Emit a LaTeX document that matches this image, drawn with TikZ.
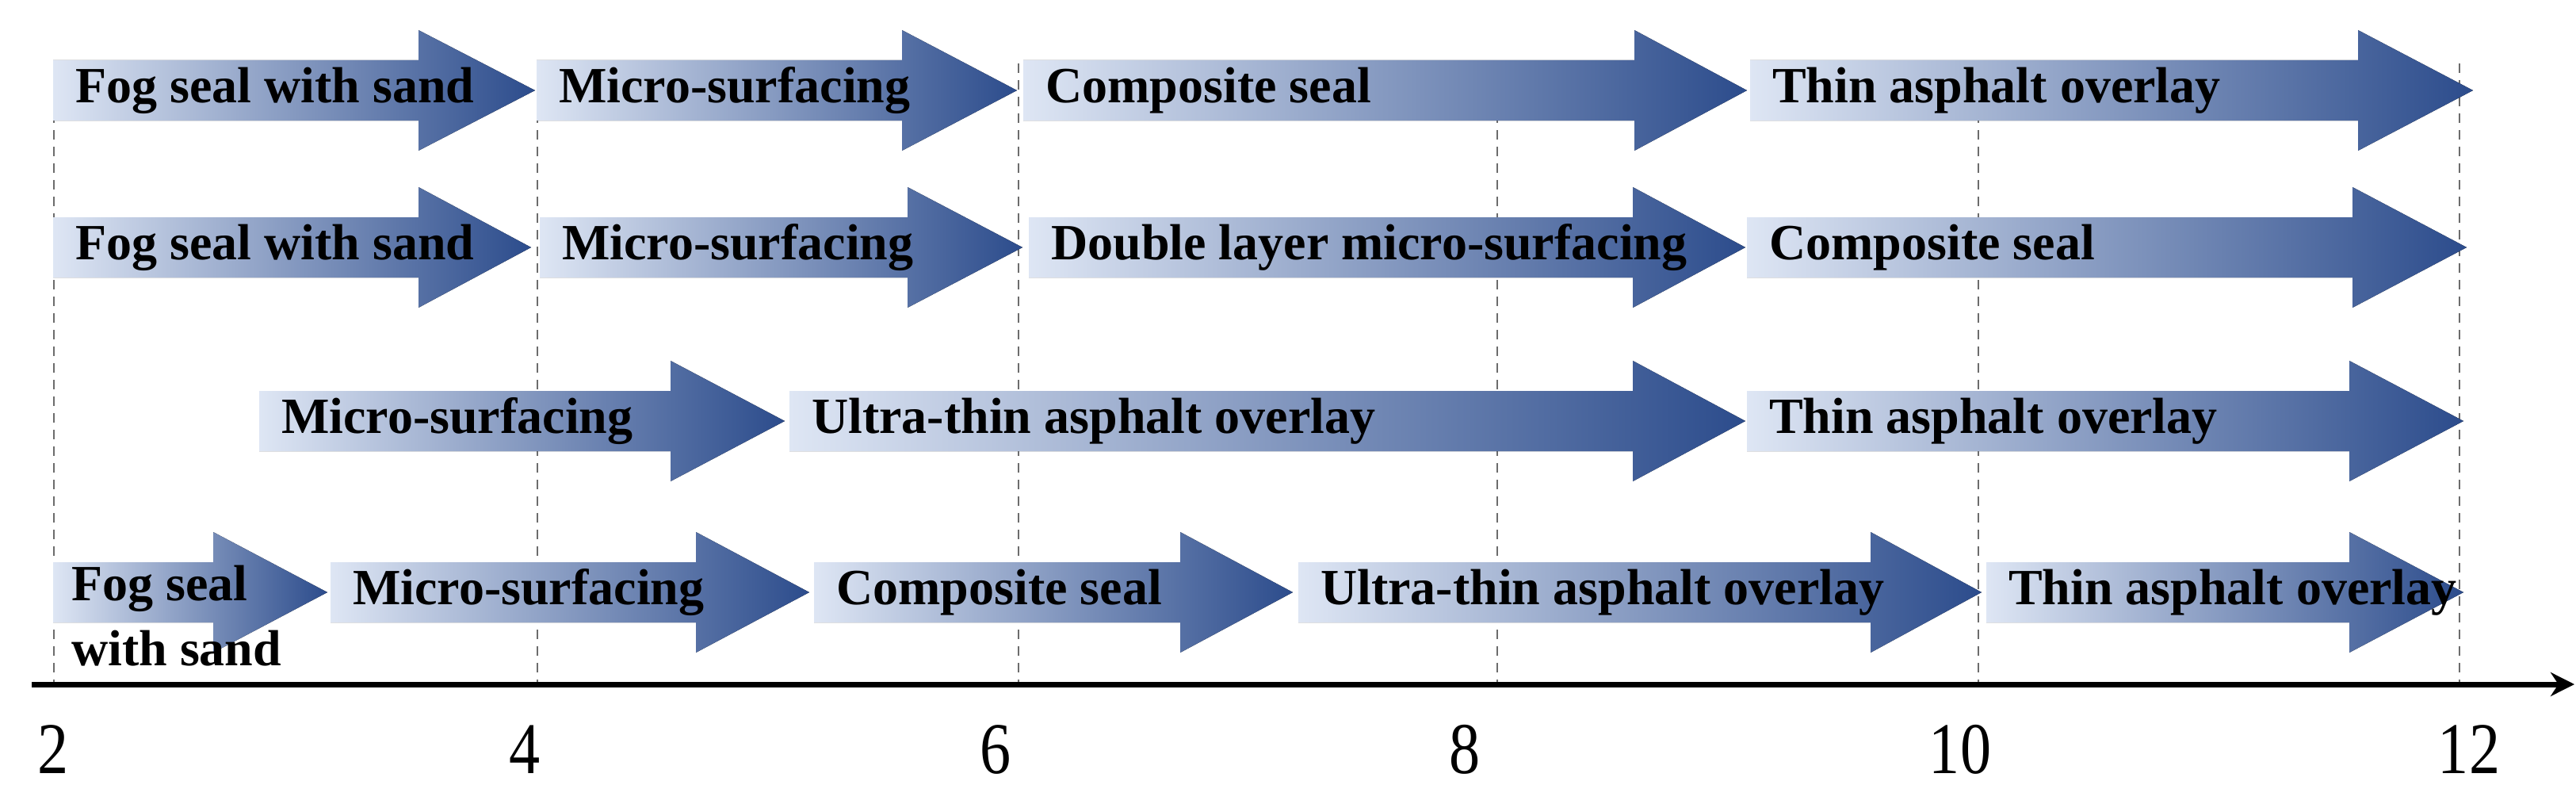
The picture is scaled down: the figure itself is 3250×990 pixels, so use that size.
\documentclass[tikz,border=0pt]{standalone}
\usepackage{fontspec}
\setmainfont{Liberation Serif}
\newfontfamily\tickfont[FakeStretch=0.85]{Liberation Serif}
\usetikzlibrary{arrows.meta}
\definecolor{lightb}{RGB}{222,230,244}
\definecolor{midb}{RGB}{150,175,222}
\definecolor{darkb}{RGB}{44,76,140}
\tikzset{
  shaft/.style={left color=lightb, middle color=midb, right color=darkb, draw=none},
  lbl/.style={font=\bfseries\fontsize{64}{66}\selectfont, anchor=west, inner sep=0pt},
  tick/.style={font=\tickfont\fontsize{92}{94}\selectfont, inner sep=0pt},
  guide/.style={draw=gray!85!black, line width=2pt, dash pattern=on 12pt off 9pt}
}
\newcommand{\arrw}[6]{% x1 headstart x2 yc name label
  \fill[shaft] (#1,#4-38) -- (#2,#4-38) -- (#2,#4-76) -- (#3,#4) -- (#2,#4+76) -- (#2,#4+38) -- (#1,#4+38) -- cycle;
  \node[lbl] (#5) at (#1+28,#4) {#6};}
\begin{document}
\begin{tikzpicture}[x=1pt,y=-1pt]
\useasboundingbox (0,0) rectangle (3250,990);
% guides
\foreach \x/\n in {68/g2,678/g4,1285/g6,1889/g8,2496/g10,3103/g12}{
  \coordinate (\n t) at (\x,80);
  \coordinate (\n b) at (\x,863);
  \draw[guide] (\n t) -- (\n b);
}
% row 1
\arrw{67}{528}{675}{114}{a11}{Fog seal with sand}
\arrw{677}{1138}{1283}{114}{a12}{Micro-surfacing}
\arrw{1291}{2062}{2204}{114}{a13}{Composite seal}
\arrw{2208}{2975}{3120}{114}{a14}{Thin asphalt overlay}
% row 2
\arrw{67}{528}{670}{312}{a21}{Fog seal with sand}
\arrw{681}{1145}{1290}{312}{a22}{Micro-surfacing}
\arrw{1298}{2060}{2202}{312}{a23}{Double layer micro-surfacing}
\arrw{2204}{2968}{3112}{312}{a24}{Composite seal}
% row 3
\arrw{327}{846}{990}{531}{a31}{Micro-surfacing}
\arrw{996}{2060}{2202}{531}{a32}{Ultra-thin asphalt overlay}
\arrw{2204}{2964}{3108}{531}{a33}{Thin asphalt overlay}
% row 4
\arrw{67}{269}{413}{747}{a41}{}
\node[lbl] (a41t) at (90,742) {Fog seal};
\node[lbl] (a41b) at (90,818) {with sand};
\arrw{417}{878}{1021}{747}{a42}{Micro-surfacing}
\arrw{1027}{1489}{1631}{747}{a43}{Composite seal}
\arrw{1638}{2360}{2500}{747}{a44}{Ultra-thin asphalt overlay}
\arrw{2506}{2964}{3108}{747}{a45}{Thin asphalt overlay}
% axis
\coordinate (ax0) at (40,863);
\coordinate (ax1) at (3248,863);
\draw[line width=7pt, -{Stealth[length=30pt,width=30pt]}] (ax0) -- (ax1);
\foreach \x/\t in {67/2,662/4,1256/6,1848/8,2473/10,3115/12}{
  \node[tick] (t\t) at (\x,945) {\t};
}
\end{tikzpicture}
\end{document}
